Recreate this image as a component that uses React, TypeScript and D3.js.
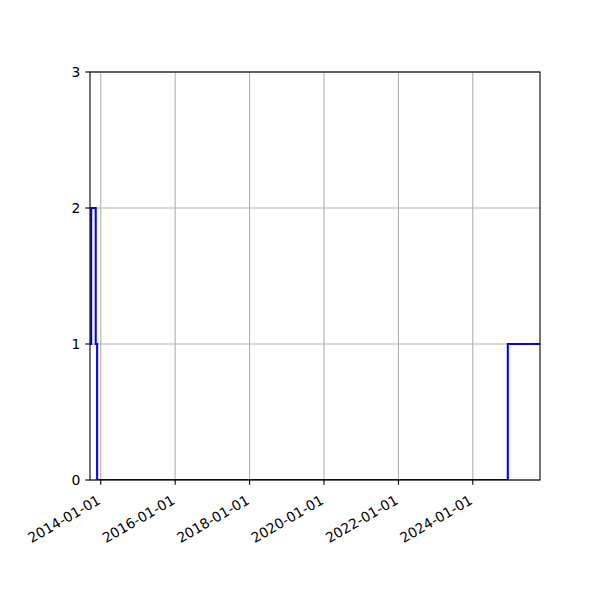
import * as d3 from "d3";

// step series (drawn as steps-pre, like matplotlib's step())
const stepDates = ["2013-09-29", "2013-11-12", "2013-11-26", "2024-12-10", "2025-10-22"];
const stepValues = [1, 2, 1, 0, 1];

const xLimits = ["2013-09-17", "2025-10-22"];
const xTickLabels = ["2014-01-01", "2016-01-01", "2018-01-01", "2020-01-01", "2022-01-01", "2024-01-01"];
const yTickValues = [0, 1, 2, 3];

const parse = d3.utcParse("%Y-%m-%d");

export default function App() {
  const W = 600;
  const H = 600;
  const margin = { left: 90, right: 60, top: 72, bottom: 120 };
  const plotW = W - margin.left - margin.right;
  const plotH = H - margin.top - margin.bottom;

  const x = d3
    .scaleUtc()
    .domain(xLimits.map((d) => parse(d) as Date))
    .range([0, plotW]);
  const y = d3.scaleLinear().domain([0, 3]).range([plotH, 0]);

  const points = stepDates.map((d, i) => ({ date: parse(d) as Date, value: stepValues[i] }));
  const line = d3
    .line<{ date: Date; value: number }>()
    .x((d) => x(d.date))
    .y((d) => y(d.value))
    .curve(d3.curveStepBefore);

  const gridColor = "#b0b0b0";
  const lw = 1.1;
  const tickLen = 4.86;
  const pad = 4.86;
  const fontSize = 13.9;
  const font = "DejaVu Sans, sans-serif";
  const labelH = fontSize;

  return (
    <svg
      width={W}
      height={H}
      style={{ position: "absolute", left: 0, top: 0, background: "#fff" }}
      fontFamily={font}
      fontSize={fontSize}
    >
      <defs>
        <clipPath id="plot-clip">
          <rect x={0} y={0} width={plotW} height={plotH} />
        </clipPath>
      </defs>
      <g transform={`translate(${margin.left},${margin.top})`}>
        {/* grid */}
        {xTickLabels.map((t) => (
          <line
            key={"gx" + t}
            x1={x(parse(t) as Date)}
            x2={x(parse(t) as Date)}
            y1={0}
            y2={plotH}
            stroke={gridColor}
            strokeWidth={lw}
          />
        ))}
        {yTickValues.map((v) => (
          <line key={"gy" + v} x1={0} x2={plotW} y1={y(v)} y2={y(v)} stroke={gridColor} strokeWidth={lw} />
        ))}

        {/* series */}
        <path
          d={line(points) || ""}
          fill="none"
          stroke="#0000ff"
          strokeWidth={2.08}
          strokeLinejoin="miter"
          strokeLinecap="square"
          clipPath="url(#plot-clip)"
        />

        {/* spines */}
        <rect x={0} y={0} width={plotW} height={plotH} fill="none" stroke="#000" strokeWidth={lw} />

        {/* y ticks */}
        {yTickValues.map((v) => (
          <g key={"ty" + v} transform={`translate(0,${y(v)})`}>
            <line x1={-tickLen} x2={0} stroke="#000" strokeWidth={lw} />
            <text x={-tickLen - pad} dy="0.35em" textAnchor="end">
              {v}
            </text>
          </g>
        ))}

        {/* x ticks, rotated like autofmt_xdate */}
        {xTickLabels.map((t) => {
          const tx = x(parse(t) as Date);
          return (
            <g key={"tx" + t}>
              <line x1={tx} x2={tx} y1={plotH} y2={plotH + tickLen} stroke="#000" strokeWidth={lw} />
              <g transform={`translate(${tx - labelH / 2},${plotH + tickLen + pad}) rotate(-30)`}>
                <text x={0} y={15.3} textAnchor="end">
                  {t}
                </text>
              </g>
            </g>
          );
        })}
      </g>
    </svg>
  );
}
